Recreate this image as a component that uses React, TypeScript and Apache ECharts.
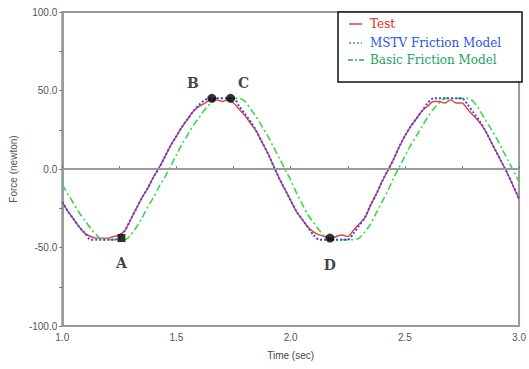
import React, { useEffect, useRef } from "react";
import * as echarts from "echarts";

const TIME = [
  1.0, 1.025, 1.05, 1.075, 1.1, 1.125, 1.15, 1.175, 1.2, 1.225,
  1.25, 1.275, 1.3, 1.325, 1.35, 1.375, 1.4, 1.425, 1.45, 1.475,
  1.5, 1.525, 1.55, 1.575, 1.6, 1.625, 1.65, 1.675, 1.7, 1.725,
  1.75, 1.775, 1.8, 1.825, 1.85, 1.875, 1.9, 1.925, 1.95, 1.975,
  2.0, 2.025, 2.05, 2.075, 2.1, 2.125, 2.15, 2.175, 2.2, 2.225,
  2.25, 2.275, 2.3, 2.325, 2.35, 2.375, 2.4, 2.425, 2.45, 2.475,
  2.5, 2.525, 2.55, 2.575, 2.6, 2.625, 2.65, 2.675, 2.7, 2.725,
  2.75, 2.775, 2.8, 2.825, 2.85, 2.875, 2.9, 2.925, 2.95, 2.975,
  3.0,
];

const TEST = [
  -21, -27, -32, -37, -41, -43, -44, -44, -44, -43,
  -42, -39, -32, -25, -18, -12, -5, 1, 8, 15,
  21, 27, 32, 37, 40, 42, 44, 44, 43, 44,
  42, 38, 34, 29, 24, 17, 10, 2, -6, -13,
  -20, -27, -32, -37, -40, -42, -43, -44, -43, -42,
  -43, -39, -35, -31, -23, -16, -8, -1, 6, 14,
  21, 27, 32, 37, 40, 43, 43, 42, 44, 42,
  42, 38, 34, 30, 25, 18, 11, 4, -3, -11,
  -19,
];

const MSTV = [
  -21, -27, -32, -37, -41, -45, -45, -45, -45, -45,
  -44, -39, -32, -25, -18, -12, -5, 1, 8, 15,
  21, 27, 32, 37, 41, 44, 45, 45, 45, 45,
  45, 40, 35, 30, 24, 17, 10, 2, -6, -13,
  -20, -27, -32, -37, -42, -45, -45, -45, -45, -45,
  -45, -41, -36, -31, -23, -16, -8, -1, 6, 14,
  21, 27, 32, 37, 42, 45, 45, 45, 45, 45,
  45, 41, 36, 31, 25, 18, 11, 4, -3, -11,
  -19,
];

const BASIC = [
  -10, -16, -22, -28, -33, -38, -42, -45, -45, -45,
  -45, -45, -42, -37, -31, -24, -18, -11, -5, 2,
  9, 16, 22, 28, 33, 38, 42, 45, 45, 45,
  45, 45, 43, 38, 33, 27, 21, 14, 7, 0,
  -7, -15, -22, -29, -34, -39, -43, -45, -45, -45,
  -45, -45, -44, -40, -35, -28, -21, -14, -6, 1,
  8, 15, 21, 27, 33, 38, 42, 45, 45, 45,
  45, 45, 43, 38, 32, 26, 20, 13, 6, -1,
  -8,
];

const POINT_NAMES = ["A", "B", "C", "D"];
const POINT_T = [1.259, 1.655, 1.737, 2.172];
const POINT_F = [-44, 45, 45, -44];

const SERIES_NAMES = ["Test", "MSTV Friction Model", "Basic Friction Model"];

const RED = "#f03a3a";
const BLUE = "#3a4cf0";
const GREEN = "#3ad84a";

export default function App() {
  const ref = useRef<HTMLDivElement>(null);
  useEffect(() => {
    document.body.style.margin = "0";
    const chart = echarts.init(ref.current!, null, { renderer: "svg" });
    const pair = (vals: number[]) => TIME.map((t, i) => [t, vals[i]]);
    const labelOffsets = [
      [0, 25],
      [-19, -15],
      [13, -15],
      [0, 27],
    ];
    const symbols = ["rect", "circle", "circle", "circle"];
    const axisLabelStyle = {
      color: "#555",
      fontSize: 10,
      fontFamily: "'Liberation Sans Narrow', 'Liberation Sans', Arial, sans-serif",
    };
    chart.setOption({
      animation: false,
      grid: {
        left: 58,
        right: 7,
        top: 12,
        bottom: 43,
        show: true,
        borderColor: "#9a9a9a",
        borderWidth: 2,
      },
      xAxis: {
        type: "value",
        min: 1,
        max: 3,
        interval: 0.5,
        name: "Time (sec)",
        nameLocation: "middle",
        nameGap: 24,
        nameTextStyle: { ...axisLabelStyle, fontSize: 10, color: "#444" },
        axisLine: { lineStyle: { color: "#9a9a9a", width: 2 } },
        axisTick: { inside: true, length: 3, lineStyle: { color: "#777" } },
        minorTick: { show: true, splitNumber: 2, length: 3, lineStyle: { color: "#777" } },
        splitLine: { show: false },
        axisLabel: { ...axisLabelStyle, margin: 6, formatter: (v: number) => v.toFixed(1) },
      },
      yAxis: {
        type: "value",
        min: -100,
        max: 100,
        interval: 50,
        name: "Force (newton)",
        nameLocation: "middle",
        nameGap: 44,
        nameTextStyle: { ...axisLabelStyle, fontSize: 10, color: "#555" },
        axisLine: { lineStyle: { color: "#9a9a9a", width: 2 } },
        axisTick: { length: 3, lineStyle: { color: "#777" } },
        minorTick: { show: true, splitNumber: 2, length: 3, lineStyle: { color: "#777" } },
        splitLine: { show: false },
        axisLabel: { ...axisLabelStyle, margin: 5, formatter: (v: number) => v.toFixed(1) },
      },
      series: [
        {
          name: SERIES_NAMES[0],
          type: "line",
          data: pair(TEST),
          showSymbol: false,
          smooth: 0.3,
          lineStyle: { color: RED, width: 1.4 },
          markLine: {
            silent: true,
            symbol: "none",
            label: { show: false },
            lineStyle: { color: "#9a9a9a", width: 2, type: "solid" },
            data: [{ yAxis: 0 }],
          },
          z: 2,
        },
        {
          name: SERIES_NAMES[1],
          type: "line",
          data: pair(MSTV),
          showSymbol: false,
          smooth: 0.3,
          lineStyle: { color: BLUE, width: 2, type: [2, 2] },
          z: 3,
        },
        {
          name: SERIES_NAMES[2],
          type: "line",
          data: pair(BASIC),
          showSymbol: false,
          smooth: 0.3,
          lineStyle: { color: GREEN, width: 1.6, type: [7, 3, 2, 3] },
          z: 2,
        },
        {
          name: "points",
          type: "scatter",
          z: 5,
          data: POINT_NAMES.map((n, i) => ({
            name: n,
            value: [POINT_T[i], POINT_F[i]],
            symbol: symbols[i],
            symbolSize: symbols[i] === "rect" ? 8 : 9,
            label: {
              show: true,
              position: "inside",
              offset: labelOffsets[i],
              formatter: n,
              color: "#111",
              fontSize: 14,
              fontWeight: "bold",
              fontFamily: "'DejaVu Serif', 'Liberation Serif', serif",
            },
          })),
          itemStyle: { color: "#000" },
        },
      ],
      graphic: [
        {
          type: "rect",
          shape: { x: 338, y: 12, width: 184, height: 70 },
          style: { fill: "#fff", stroke: "#111", lineWidth: 1.5 },
          z: 100,
        },
        {
          type: "line",
          shape: { x1: 349, y1: 24, x2: 362, y2: 24 },
          style: { stroke: RED, lineWidth: 1.5 },
          z: 101,
        },
        {
          type: "line",
          shape: { x1: 349, y1: 43, x2: 362, y2: 43 },
          style: { stroke: "#3aa08a", lineWidth: 1.5, lineDash: [2, 2] },
          z: 101,
        },
        {
          type: "line",
          shape: { x1: 348, y1: 60, x2: 364, y2: 60 },
          style: { stroke: "#3aa070", lineWidth: 1.5, lineDash: [5, 2, 2, 2] },
          z: 101,
        },
        ...SERIES_NAMES.map((n, i) => ({
          type: "text",
          x: 370,
          y: [24, 43, 60][i],
          style: {
            text: n,
            fill: ["#e02828", "#2a50e8", "#22a060"][i],
            font: "12px 'DejaVu Serif', serif",
            textVerticalAlign: "middle",
          },
          z: 101,
        })),
      ],
    });
    return () => chart.dispose();
  }, []);
  return <div ref={ref} style={{ width: 529, height: 369 }} />;
}
